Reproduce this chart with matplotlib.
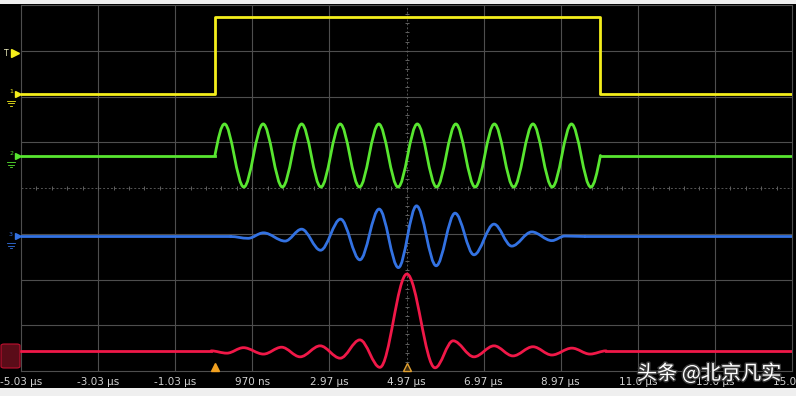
import numpy as np
import matplotlib
matplotlib.use("Agg")
import matplotlib.pyplot as plt
from matplotlib.path import Path
from matplotlib.patches import PathPatch, FancyBboxPatch, Rectangle
import matplotlib.transforms as mtransforms
import matplotlib.patheffects as pe

# ---------------- data (time in µs, vertical in screen divisions) ----------------
tick_pos = [-5.03, -3.03, -1.03, 0.97, 2.97, 4.97, 6.97, 8.97, 10.97, 12.97, 14.97]
tick_labels = ["-5.03 µs", "-3.03 µs", "-1.03 µs", "970 ns", "2.97 µs", "4.97 µs",
               "6.97 µs", "8.97 µs", "11.0 µs", "13.0 µs", "15.0 µs"]

# CH1 gate (yellow)
gate_t = [-5.03, 0.0, 0.0, 10.0, 10.0, 14.97]
gate_v = [6.05, 6.05, 7.74, 7.74, 6.05, 6.05]

# CH2 tone burst (green): baseline, then extrema of 10 cycles
tone_base = 4.71
tone_t = [0.0, 0.25, 0.75, 1.25, 1.75, 2.25, 2.75, 3.25, 3.75, 4.25, 4.75,
          5.25, 5.75, 6.25, 6.75, 7.25, 7.75, 8.25, 8.75, 9.25, 9.75, 10.0]
tone_v = [4.71, 5.40, 4.02, 5.40, 4.02, 5.40, 4.02, 5.40, 4.02, 5.40, 4.02,
          5.40, 4.02, 5.40, 4.02, 5.40, 4.02, 5.40, 4.02, 5.40, 4.02, 4.71]

# CH3 (blue): baseline and extrema
ch3_base = 2.94
ch3_t = [0.40, 0.86, 1.26, 1.82, 2.25, 2.74, 3.26, 3.76, 4.26, 4.76, 5.23,
         5.74, 6.23, 6.72, 7.24, 7.70, 8.22, 8.74, 9.08, 9.60]
ch3_v = [2.94, 2.90, 3.02, 2.84, 3.10, 2.64, 3.32, 2.43, 3.54, 2.26, 3.61,
         2.30, 3.45, 2.54, 3.21, 2.73, 3.04, 2.85, 2.95, 2.94]

# CH4 (red): baseline and extrema
ch4_base = 0.44
ch4_t = [-0.10, 0.31, 0.74, 1.26, 1.73, 2.21, 2.73, 3.25, 3.76, 4.28, 4.98,
         5.71, 6.18, 6.72, 7.24, 7.73, 8.25, 8.74, 9.26, 9.73, 10.15]
ch4_v = [0.44, 0.39, 0.51, 0.37, 0.52, 0.31, 0.55, 0.28, 0.68, 0.08, 2.12,
         0.07, 0.66, 0.31, 0.55, 0.33, 0.53, 0.35, 0.50, 0.37, 0.44]

trig_level = 6.95
x_min, x_max = -5.03, 14.97

# ---------------- figure ----------------
W, H = 796, 396
fig = plt.figure(figsize=(W / 100, H / 100), dpi=100, facecolor="black")
ax = fig.add_axes([21 / W, 25 / H, 771 / W, 366 / H])
ax.set_facecolor("black")
ax.set_xlim(x_min, x_max)
ax.set_ylim(0, 8)

grid_c = "#4e4e4e"
for x in tick_pos[1:-1]:
    if abs(x - 4.97) > 1e-6:
        ax.axvline(x, color=grid_c, lw=0.8, zorder=1)
for y in range(1, 8):
    if y != 4:
        ax.axhline(y, color=grid_c, lw=0.8, zorder=1)
# centre cross with minor ticks
ax.axvline(4.97, color="#555555", lw=0.7, ls=(0, (2, 2)), zorder=1)
ax.axhline(4, color="#555555", lw=0.7, ls=(0, (2, 2)), zorder=1)
mx = np.arange(x_min, x_max + 1e-6, 0.4)
ax.plot(mx, np.full_like(mx, 4.0), ls="none", marker="|", ms=3.5, mew=0.7, color="#606060", zorder=1)
my = np.arange(0, 8.0001, 0.2)
ax.plot(np.full_like(my, 4.97), my, ls="none", marker="_", ms=3.5, mew=0.7, color="#606060", zorder=1)

for s in ax.spines.values():
    s.set_color(grid_c)
    s.set_linewidth(0.8)

ax.set_xticks(tick_pos, tick_labels)
ax.set_yticks([])
ax.tick_params(axis="x", length=0, pad=4, labelcolor="#d2d2d2", labelsize=7.5)

LW = 2.0


def smooth_trace(ts, vs, color, quarter_ends=False, lw=LW):
    n = len(ts)
    slopes = [0.0] * n
    if quarter_ends:
        slopes[0] = (vs[1] - vs[0]) * np.pi / 2 / (ts[1] - ts[0])
        slopes[-1] = (vs[-1] - vs[-2]) * np.pi / 2 / (ts[-1] - ts[-2])
    verts = [(ts[0], vs[0])]
    codes = [Path.MOVETO]
    for i in range(n - 1):
        c = 0.35 * (ts[i + 1] - ts[i])
        verts += [(ts[i] + c, vs[i] + slopes[i] * c),
                  (ts[i + 1] - c, vs[i + 1] - slopes[i + 1] * c),
                  (ts[i + 1], vs[i + 1])]
        codes += [Path.CURVE4] * 3
    patch = PathPatch(Path(verts, codes), fill=False, edgecolor=color, lw=lw,
                      capstyle="round", joinstyle="round", zorder=3)
    ax.add_patch(patch)


yellow, green, blue, red = "#f4ee1c", "#58e630", "#3372e2", "#f01848"

ax.plot(gate_t, gate_v, color=yellow, lw=LW, zorder=3)

ax.plot([x_min, tone_t[0]], [tone_base, tone_base], color=green, lw=LW, zorder=3)
ax.plot([tone_t[-1], x_max], [tone_base, tone_base], color=green, lw=LW, zorder=3)
smooth_trace(tone_t, tone_v, green, quarter_ends=True)

ax.plot([x_min, ch3_t[0]], [ch3_base, ch3_base], color=blue, lw=LW, zorder=3)
ax.plot([ch3_t[-1], x_max], [ch3_base, ch3_base], color=blue, lw=LW, zorder=3)
smooth_trace(ch3_t, ch3_v, blue)

ax.plot([x_min, ch4_t[0]], [ch4_base, ch4_base], color=red, lw=LW, zorder=3)
ax.plot([ch4_t[-1], x_max], [ch4_base, ch4_base], color=red, lw=LW, zorder=3)
smooth_trace(ch4_t, ch4_v, red)

# bottom markers
ax.plot([0.0], [0.09], marker="^", ms=6, color="#f0a020", ls="none", clip_on=False, zorder=5)
ax.plot([4.97], [0.09], marker="^", ms=6, mfc="#3a2a10", mec="#e0a030", mew=1.0,
        ls="none", clip_on=False, zorder=5)

# left-side channel markers
bt = mtransforms.blended_transform_factory(fig.transFigure, ax.transData)
fig.add_artist(FancyBboxPatch((1 / W, 28 / H), 19 / W, 24 / H,
                              boxstyle="round,pad=0,rounding_size=0.004",
                              transform=fig.transFigure, facecolor="#5a0c18",
                              edgecolor="#c01030", lw=0.8))
for lvl, col, num in [(gate_v[0], yellow, "1"), (tone_base, green, "2"),
                      (ch3_base, blue, "3"), (ch4_base, red, "4")]:
    ax.plot([18 / W], [lvl], marker=">", ms=5, color=col, transform=bt,
            clip_on=False, ls="none", zorder=6)
    ax.text(11 / W, lvl + 0.05, num, transform=bt, color=col, fontsize=4.5,
            ha="center", va="center", clip_on=False)
    for k, half in enumerate([4, 3, 1.5]):
        y0 = lvl - 0.14 - 0.06 * k
        ax.plot([(11 - half) / W, (11 + half) / W], [y0, y0], color=col, lw=0.6,
                transform=bt, clip_on=False)

ax.text(6 / W, trig_level, "T", transform=bt, color="#f2f2c0", fontsize=5.5,
        ha="center", va="center", clip_on=False)
ax.plot([15 / W], [trig_level], marker=">", ms=6, color=yellow, transform=bt,
        clip_on=False, ls="none")

# light strips at top and bottom of the screenshot
fig.add_artist(Rectangle((0, 0), 1, 8 / H, transform=fig.transFigure,
                         facecolor="#efefef", edgecolor="none"))
fig.add_artist(Rectangle((0, 1 - 4 / H), 1, 4 / H, transform=fig.transFigure,
                         facecolor="#efefef", edgecolor="none"))

# watermark
fig.text(637 / W, 1 - 374 / H, "头条 @北京凡实", fontsize=14.5, color="white",
         va="center", ha="left", family=["Noto Sans CJK SC", "DejaVu Sans"],
         path_effects=[pe.withStroke(linewidth=2, foreground="#3a3a3a")])

fig.savefig("out.png", dpi=100, facecolor="black")
